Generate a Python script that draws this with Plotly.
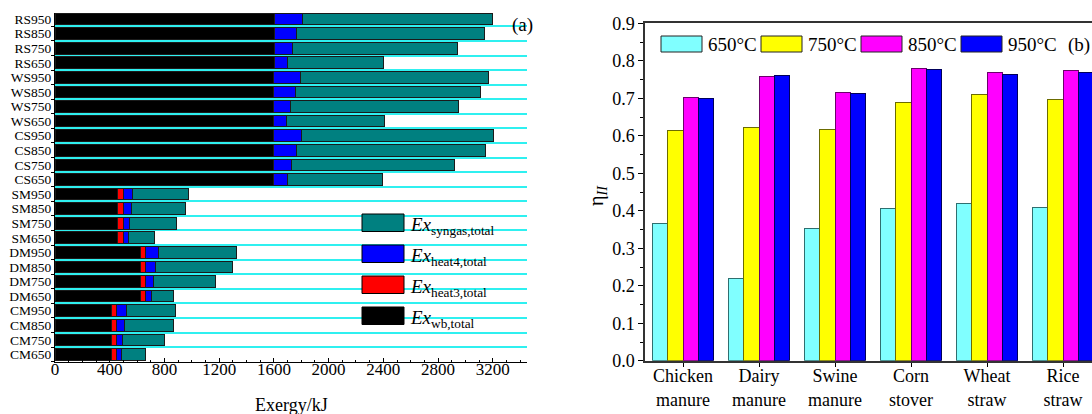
import plotly.graph_objects as go

W, H = 1092, 414

# ---------------- Panel (a) data ----------------
cases = ["CM650", "CM750", "CM850", "CM950",
         "DM650", "DM750", "DM850", "DM950",
         "SM650", "SM750", "SM850", "SM950",
         "CS650", "CS750", "CS850", "CS950",
         "WS650", "WS750", "WS850", "WS950",
         "RS650", "RS750", "RS850", "RS950"]
ex_wb = [410, 410, 410, 410,
         627, 627, 627, 627,
         458, 458, 458, 458,
         1600, 1600, 1600, 1600,
         1598, 1598, 1598, 1598,
         1605, 1605, 1605, 1605]
ex_heat3 = [41, 41, 41, 41,
            36, 36, 36, 36,
            41, 41, 41, 41,
            0, 0, 0, 0,
            0, 0, 0, 0,
            0, 0, 0, 0]
ex_heat4 = [34, 44, 56, 68,
            44, 59, 73, 90,
            37, 44, 57, 69,
            99, 131, 165, 204,
            96, 126, 162, 199,
            97, 128, 162, 204]
ex_syngas = [180, 307, 356, 364,
             158, 450, 558, 576,
             188, 342, 399, 410,
             692, 1192, 1380, 1404,
             712, 1228, 1350, 1375,
             702, 1212, 1373, 1392]

# ---------------- Panel (b) data ----------------
feedstocks = ["Chicken<br>manure", "Dairy<br>manure", "Swine<br>manure",
              "Corn<br>stover", "Wheat<br>straw", "Rice<br>straw"]
eta_650 = [0.365, 0.220, 0.353, 0.406, 0.419, 0.410]
eta_750 = [0.614, 0.623, 0.617, 0.689, 0.711, 0.698]
eta_850 = [0.702, 0.758, 0.715, 0.779, 0.768, 0.774]
eta_950 = [0.699, 0.762, 0.712, 0.776, 0.763, 0.770]
temps = ["650°C", "750°C", "850°C", "950°C"]

FONT = "Liberation Serif"

def px(x):
    return x / W

def py(y):
    return 1 - y / H

fig = go.Figure()

a_series = [(ex_wb, "#000000"), (ex_heat3, "#FF0000"),
            (ex_heat4, "#0000FF"), (ex_syngas, "#008080")]
for vals, col in a_series:
    fig.add_trace(go.Bar(
        y=cases, x=vals, orientation="h", xaxis="x", yaxis="y",
        marker=dict(color=col, line=dict(color="#1a1a1a", width=1)),
        showlegend=False, hoverinfo="x+y"))

b_series = [(eta_650, "#80FFFF", "#2f6f6f"), (eta_750, "#FFFF00", "#6b6b00"),
            (eta_850, "#FF00FF", "#6b006b"), (eta_950, "#0000FF", "#00005a")]
for i, ((vals, col, lc), t) in enumerate(zip(b_series, temps)):
    fig.add_trace(go.Bar(
        x=feedstocks, y=vals, name=t, xaxis="x2", yaxis="y2",
        offsetgroup=str(i), width=0.2, offset=-0.4 + 0.2 * i,
        marker=dict(color=col, line=dict(color=lc, width=1)),
        showlegend=False))

fig.update_layout(
    width=W, height=H, autosize=False,
    margin=dict(l=0, r=0, t=0, b=0, pad=0, autoexpand=False),
    paper_bgcolor="white", plot_bgcolor="white",
    font=dict(family=FONT, color="black"),
    barmode="stack",
    bargap=0.2,
    xaxis=dict(domain=[px(55), px(527)], anchor="y", range=[0, 3450],
               automargin=False,
               tickvals=[0, 400, 800, 1200, 1600, 2000, 2400, 2800, 3200],
               ticks="inside", ticklen=4, tickwidth=1, tickcolor="black",
               ticklabelstandoff=-8,
               minor=dict(dtick=100, ticks="inside", ticklen=2, tickcolor="black"),
               showline=True, linecolor="black", linewidth=1,
               showgrid=False, zeroline=False,
               tickfont=dict(family=FONT, size=17, color="black")),
    yaxis=dict(domain=[py(361.7), py(12.5)], anchor="x", type="category",
               automargin=False,
               categoryorder="array", categoryarray=cases,
               tickmode="array", tickvals=cases, ticktext=cases,
               range=[-0.5, 23.45],
               tickson="boundaries", ticks="outside", ticklen=3, tickcolor="black",
               showline=True, linecolor="black", linewidth=1,
               showgrid=True, gridcolor="#2FF0F0", gridwidth=2,
               tickfont=dict(family=FONT, size=13.5, color="black")),
    xaxis2=dict(domain=[px(645), 1.0], anchor="y2", type="category",
                automargin=False,
                range=[-0.5, 5.38],
                ticks="outside", ticklen=4, tickcolor="black",
                ticklabelstandoff=-6,
                showline=True, linecolor="#333", linewidth=1.5, mirror=True,
                showgrid=False, zeroline=False,
                tickfont=dict(family=FONT, size=18, color="black")),
    yaxis2=dict(domain=[py(360.8), py(23.3)], anchor="x2", range=[0, 0.9],
                automargin=False,
                dtick=0.1, tickformat=".1f",
                ticks="outside", ticklen=5, tickcolor="black",
                minor=dict(dtick=0.05, ticks="outside", ticklen=3, tickcolor="black"),
                showline=True, linecolor="#333", linewidth=1.5,
                showgrid=False, zeroline=False,
                tickfont=dict(family=FONT, size=18, color="black")),
)

shapes = []
annotations = []

# Panel (a) legend
a_leg = [("#008080", "syngas,total", 214), ("#0000FF", "heat4,total", 245),
         ("#FF0000", "heat3,total", 276), ("#000000", "wb,total", 307)]
for col, sub, top in a_leg:
    shapes.append(dict(type="rect", xref="paper", yref="paper",
                       x0=px(362), x1=px(404), y0=py(top + 17.5), y1=py(top),
                       fillcolor=col, line=dict(color="black", width=1)))
    annotations.append(dict(xref="paper", yref="paper", x=px(408), y=py(top - 2),
                            xanchor="left", yanchor="top", showarrow=False,
                            text="<i>Ex</i><sub>" + sub + "</sub>",
                            font=dict(family=FONT, size=19, color="black")))

annotations.append(dict(xref="paper", yref="paper", x=px(510), y=py(25),
                        xanchor="left", yanchor="middle", showarrow=False,
                        text="(a)", font=dict(family=FONT, size=19, color="black")))
annotations.append(dict(xref="paper", yref="paper", x=px(291), y=py(405),
                        xanchor="center", yanchor="middle", showarrow=False,
                        text="Exergy/kJ", font=dict(family=FONT, size=18, color="black")))

# Panel (b) legend
b_cols = [("#80FFFF", "#2f6f6f"), ("#FFFF00", "#6b6b00"),
          ("#FF00FF", "#6b006b"), ("#0000FF", "#00005a")]
for i, ((col, lc), t) in enumerate(zip(b_cols, temps)):
    x0 = 661 + 100 * i
    shapes.append(dict(type="rect", xref="paper", yref="paper",
                       x0=px(x0), x1=px(x0 + 41), y0=py(52), y1=py(36),
                       fillcolor=col, line=dict(color="#222", width=1)))
    annotations.append(dict(xref="paper", yref="paper", x=px(x0 + 45), y=py(44.5),
                            xanchor="left", yanchor="middle", showarrow=False,
                            text=t, font=dict(family=FONT, size=19, color="black")))
annotations.append(dict(xref="paper", yref="paper", x=px(1066), y=py(44.5),
                        xanchor="left", yanchor="middle", showarrow=False,
                        text="(b)", font=dict(family=FONT, size=19, color="black")))

# Panel (b) y title
annotations.append(dict(xref="paper", yref="paper", x=px(597), y=py(195),
                        xanchor="center", yanchor="middle", showarrow=False,
                        textangle=-90,
                        text="η<sub><i>II</i></sub>",
                        font=dict(family=FONT, size=20, color="black")))

fig.update_layout(shapes=shapes, annotations=annotations)

fig.write_html("out.html", config={"displayModeBar": False},
               post_script="document.body.style.margin='0';document.body.style.padding='0';document.body.style.overflow='hidden';")
